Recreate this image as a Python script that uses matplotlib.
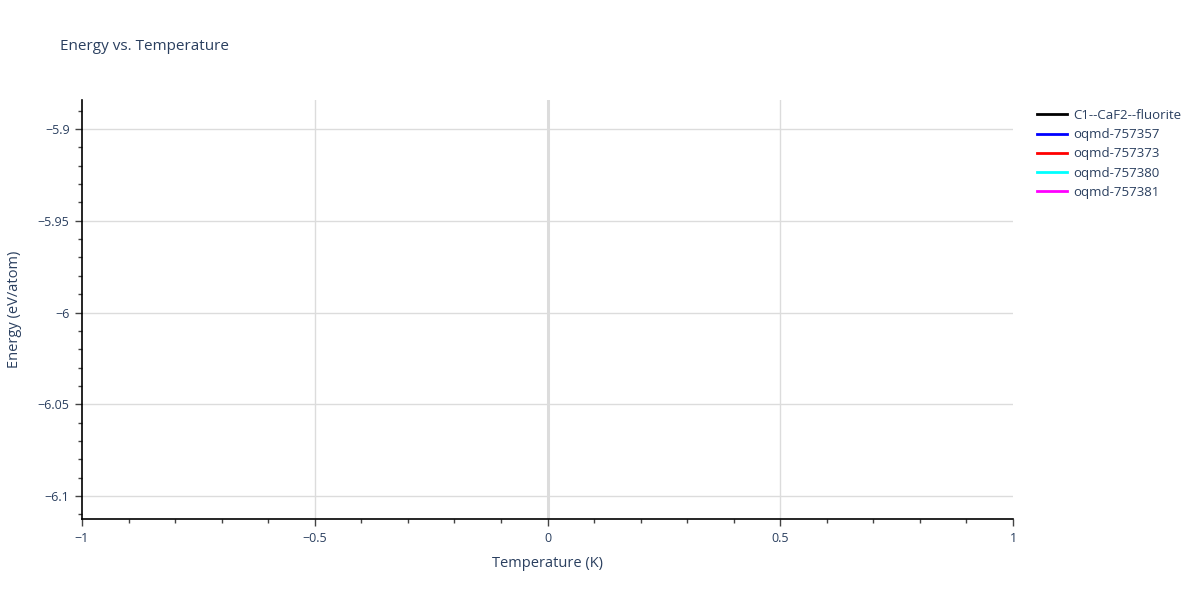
import matplotlib
matplotlib.use("Agg")
import matplotlib.pyplot as plt
from matplotlib.lines import Line2D
from matplotlib.ticker import FuncFormatter, MultipleLocator

plt.rcParams["font.family"] = ["Open Sans", "DejaVu Sans"]

# data: every structure only has a single point at T = 0 K
names = ["C1--CaF2--fluorite", "oqmd-757357", "oqmd-757373", "oqmd-757380", "oqmd-757381"]
colors = ["black", "blue", "red", "cyan", "magenta"]
temps = [[0.0], [0.0], [0.0], [0.0], [0.0]]
energies = [[-5.99], [-6.0], [-5.99], [-6.0], [-6.0]]

TXT = "#2a3f5f"
GRID = "#dcdcdc"

fig = plt.figure(figsize=(12, 6), dpi=100)
ax = fig.add_axes([82 / 1200, 1 - 519 / 600, (1013 - 82) / 1200, (519 - 100) / 600])

for x, y, c, n in zip(temps, energies, colors, names):
    ax.plot(x, y, color=c, lw=2, label=n)

ax.set_xlim(-1, 1)
ax.set_ylim(-6.1125, -5.8842)

fmt = FuncFormatter(lambda v, p: ("%g" % v).replace("-", "\u2212"))
ax.xaxis.set_major_locator(MultipleLocator(0.5))
ax.xaxis.set_minor_locator(MultipleLocator(0.1))
ax.yaxis.set_major_locator(MultipleLocator(0.05))
ax.yaxis.set_minor_locator(MultipleLocator(0.01))
ax.xaxis.set_major_formatter(fmt)
ax.yaxis.set_major_formatter(fmt)

ax.grid(True, which="major", color=GRID, lw=1)
ax.axvline(0, color=GRID, lw=2.2, zorder=0.5)
ax.set_axisbelow(True)

for s in ("top", "right"):
    ax.spines[s].set_visible(False)
for s in ("left", "bottom"):
    ax.spines[s].set_color("black")
    ax.spines[s].set_linewidth(1.2)

ax.tick_params(which="major", direction="out", length=5, width=1, color="#444444",
               labelsize=9, labelcolor=TXT, pad=4)
ax.tick_params(which="minor", direction="out", length=3, width=1, color="#444444")

# no gridlines on the range edges
fig.canvas.draw()
for loc, gl in zip(ax.get_xticks(), ax.get_xgridlines()):
    if abs(abs(loc) - 1) < 1e-9:
        gl.set_visible(False)

ax.set_xlabel("Temperature (K)", fontsize=10.5, color=TXT, labelpad=8)
ax.set_ylabel("Energy (eV/atom)", fontsize=10.5, color=TXT, labelpad=11)

fig.text(60 / 1200, 1 - 47 / 600, "Energy vs. Temperature", fontsize=11, color=TXT,
         va="center", ha="left")

handles = [Line2D([], [], color=c, lw=2) for c in colors]
fig.legend(handles, names, loc="upper left", bbox_to_anchor=(1037 / 1200, 1 - 109 / 600),
           frameon=False, fontsize=9.5, labelcolor=TXT, handlelength=2.3,
           handletextpad=0.45, labelspacing=0.47, borderaxespad=0, borderpad=0)

fig.savefig("out.png", dpi=100)
